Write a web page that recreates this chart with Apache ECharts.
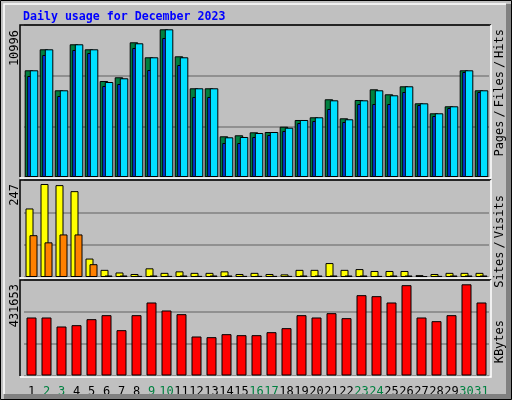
<!DOCTYPE html>
<html>
<head>
<meta charset="utf-8">
<script src="https://cdn.jsdelivr.net/npm/echarts@6/dist/echarts.min.js"></script>
<style>html,body{margin:0;padding:0;background:#c0c0c0}#chart{width:512px;height:400px}</style>
</head>
<body>
<div id="chart"></div>
<script>
var days = ['1','2','3','4','5','6','7','8','9','10','11','12','13','14','15','16','17','18','19','20','21','22','23','24','25','26','27','28','29','30','31'];
var weekend = ['2','3','9','10','16','17','23','24','30','31'];
var hits = [7944,9507,6455,9880,9507,7147,7423,10028,8912,10996,8986,6604,6604,3030,3105,3328,3350,3745,4244,4445,5785,4370,5733,6529,6157,6753,5487,4743,5264,7944,6455];
var files = [7519,9083,6030,9455,9232,6775,6924,9604,7966,10349,8338,5956,5956,2531,2531,2978,3127,3425,4020,4169,5063,4095,5435,5435,5435,6328,5360,4541,5137,7817,6328];
var pages = [7944,9507,6455,9880,9507,7072,7349,9954,8912,10996,8912,6604,6604,2955,2978,3276,3350,3670,4244,4445,5710,4296,5710,6455,6083,6753,5487,4743,5264,7944,6455];
var visits = [182,247,244,228,49,19,12,8,23,11,15,11,11,15,8,11,8,7,19,19,37,19,21,16,16,16,5,8,11,11,11];
var sites = [111,92,113,113,34,4,4,3,4,3,4,3,4,4,3,3,3,3,4,4,4,4,4,3,4,4,2,3,4,4,4];
var kbytes = [274520,274520,231922,238233,266631,285564,214567,285564,345516,307652,290297,184591,181436,195635,190902,190902,205101,224033,285564,274520,295030,271365,380226,375493,345516,427557,274520,257165,285564,431653,345516];

var chart = echarts.init(document.getElementById('chart'));
var mono = 'DejaVu Sans Mono';
var edge = { color: '#000', width: 1 };

function yAx(idx, max) {
    return {
        gridIndex: idx, min: 0, max: max, interval: max / 3,
        axisLine: { show: false }, axisTick: { show: false }, axisLabel: { show: false },
        splitLine: { lineStyle: { color: '#808080', width: 1.5 } }
    };
}
function xAx(idx, labels) {
    return {
        gridIndex: idx, type: 'category', data: days,
        axisLine: { show: false }, axisTick: { show: false },
        axisLabel: labels ? {
            show: true, interval: 0, margin: 10, fontFamily: mono, fontSize: 12,
            formatter: function(v) { return weekend.indexOf(v) >= 0 ? '{w|' + v + '}' : '{d|' + v + '}'; },
            rich: { w: { color: '#008040', fontFamily: mono, fontSize: 12 }, d: { color: '#000', fontFamily: mono, fontSize: 12 } }
        } : { show: false }
    };
}
function frame(y, h) {
    return [
        { type: 'polyline', shape: { points: [[20, y + h], [20, y], [491, y]] }, style: { stroke: '#000', lineWidth: 1.5, fill: null }, z: 100 },
        { type: 'polyline', shape: { points: [[20, y + h + 1], [491, y + h + 1], [491, y]] }, style: { stroke: '#fff', lineWidth: 1.5, fill: null }, z: 100 }
    ];
}
function vtext(x, y, parts, rich) {
    return { type: 'text', x: x, y: y, rotation: Math.PI / 2, z: 100,
        style: { text: parts, rich: rich, fontFamily: mono, fontSize: 12, align: 'right', verticalAlign: 'middle' } };
}

var option = {
    backgroundColor: '#c0c0c0',
    animation: false,
    title: { text: 'Daily usage for December 2023', left: 18, top: 6,
        textStyle: { color: '#0000ff', fontFamily: mono, fontSize: 11.6, fontWeight: 'bold' } },
    grid: [
        { left: 24, width: 465, top: 25, height: 152 },
        { left: 24, width: 465, top: 180, height: 97 },
        { left: 24, width: 465, top: 280, height: 95.5 }
    ],
    xAxis: [xAx(0, false), xAx(1, false), xAx(2, true)],
    yAxis: [yAx(0, 11316), yAx(1, 257.6), yAx(2, 452000)],
    series: [
        { name: 'Hits', type: 'bar', xAxisIndex: 0, yAxisIndex: 0, data: hits, barWidth: 8.5, barGap: '-70%',
          itemStyle: { color: '#008040', borderColor: '#000', borderWidth: 1 } },
        { name: 'Files', type: 'bar', xAxisIndex: 0, yAxisIndex: 0, data: files, barWidth: 8.5, barGap: '-70%',
          itemStyle: { color: '#0040ff', borderColor: '#000', borderWidth: 1 } },
        { name: 'Pages', type: 'bar', xAxisIndex: 0, yAxisIndex: 0, data: pages, barWidth: 8.5, barGap: '-70%',
          itemStyle: { color: '#00e0ff', borderColor: '#000', borderWidth: 1 } },
        { name: 'Visits', type: 'bar', xAxisIndex: 1, yAxisIndex: 1, data: visits, barWidth: 8, barGap: '-50%',
          itemStyle: { color: '#ffff00', borderColor: '#000', borderWidth: 1 } },
        { name: 'Sites', type: 'bar', xAxisIndex: 1, yAxisIndex: 1, data: sites, barWidth: 8, barGap: '-50%',
          itemStyle: { color: '#ff8000', borderColor: '#000', borderWidth: 1 } },
        { name: 'KBytes', type: 'bar', xAxisIndex: 2, yAxisIndex: 2, data: kbytes, barWidth: 10,
          itemStyle: { color: '#ff0000', borderColor: '#000', borderWidth: 1 } }
    ],
    graphic: [].concat(
        // outer 3d border
        [
            { type: 'rect', shape: { x: 0.5, y: 0.5, width: 511, height: 399 }, style: { stroke: '#000', fill: null, lineWidth: 1 }, z: 100 },
            { type: 'polyline', shape: { points: [[4, 394], [4, 4], [506, 4]] }, style: { stroke: '#fff', lineWidth: 1.5, fill: null }, z: 100 },
            { type: 'polyline', shape: { points: [[4, 396.5], [508.5, 396.5], [508.5, 4]] }, style: { stroke: '#808080', lineWidth: 5, fill: null }, z: 100 }
        ],
        frame(25, 152), frame(180, 97), frame(280, 96),
        [
            vtext(15, 30, '10996', {}),
            vtext(15, 184, '247', {}),
            vtext(15, 284, '431653', {}),
            vtext(500, 29, '{p|Pages}{s|/}{f|Files}{s|/}{h|Hits}', {
                p: { color: '#00e0ff', fontFamily: mono, fontSize: 12 }, f: { color: '#0040ff', fontFamily: mono, fontSize: 12 },
                h: { color: '#008040', fontFamily: mono, fontSize: 12 }, s: { color: '#000', fontFamily: mono, fontSize: 12, padding: [0, 3] } }),
            vtext(500, 195, '{o|Sites}{s|/}{y|Visits}', {
                o: { color: '#ff8000', fontFamily: mono, fontSize: 12 }, y: { color: '#ffff00', fontFamily: mono, fontSize: 12 },
                s: { color: '#000', fontFamily: mono, fontSize: 12, padding: [0, 3] } }),
            vtext(500, 320, '{r|KBytes}', { r: { color: '#ff0000', fontFamily: mono, fontSize: 12 } })
        ]
    )
};
chart.setOption(option);
</script>
</body>
</html>
